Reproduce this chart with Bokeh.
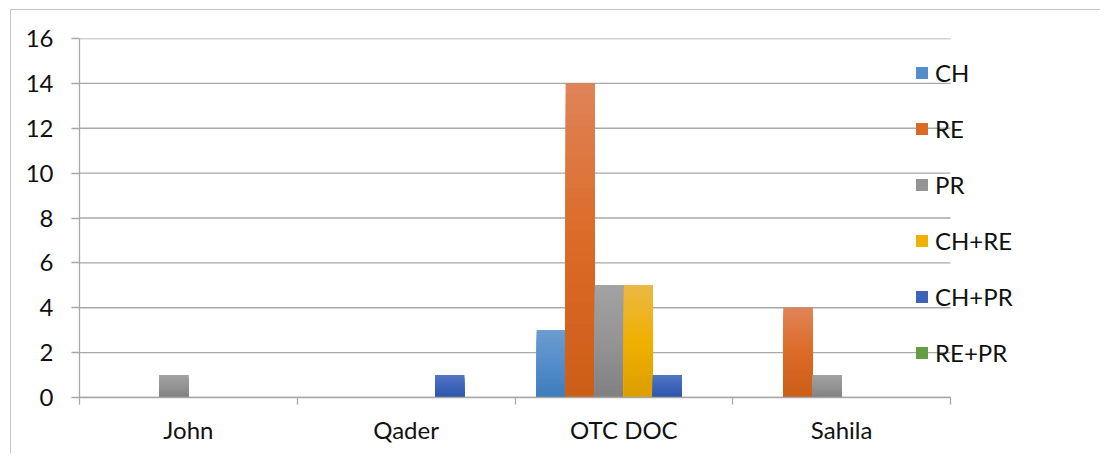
import numpy as np
from bokeh.plotting import figure
from bokeh.models import ColumnDataSource, FixedTicker, Legend, LegendItem, Range1d
from bokeh.embed import file_html
from bokeh.resources import INLINE

# ---- data ----
categories = ["John", "Qader", "OTC DOC", "Sahila"]
series_names = ["CH", "RE", "PR", "CH+RE", "CH+PR", "RE+PR"]
CH = [0, 0, 3, 0]
RE = [0, 0, 14, 4]
PR = [1, 0, 5, 1]
CH_RE = [0, 0, 5, 0]
CH_PR = [0, 1, 1, 0]
RE_PR = [0, 0, 0, 0]
y_ticks = [0, 2, 4, 6, 8, 10, 12, 14, 16]

series_values = [CH, RE, PR, CH_RE, CH_PR, RE_PR]

# gradient colours (top, middle, bottom)
grad = {
    "CH": ((108, 156, 206), (84, 141, 203), (62, 124, 188)),
    "RE": ((224, 132, 88), (219, 106, 38), (204, 94, 24)),
    "PR": ((162, 162, 162), (148, 148, 148), (128, 128, 128)),
    "CH+RE": ((236, 184, 70), (240, 176, 0), (220, 158, 0)),
    "CH+PR": ((82, 118, 194), (62, 100, 184), (44, 86, 170)),
    "RE+PR": ((114, 172, 82), (100, 158, 66), (84, 142, 52)),
}

def mix(c, t):
    top, mid, bot = c
    if t < 0.5:
        a, b, f = top, mid, t / 0.5
    else:
        a, b, f = mid, bot, (t - 0.5) / 0.5
    r = [int(round(a[i] + (b[i] - a[i]) * f)) for i in range(3)]
    return "#%02x%02x%02x" % tuple(r)

FONT = "Lato"
FS = "24px"
GRID = "#a8a8a8"
n_cat = len(categories)
n_series = len(series_names)
bw = 0.8 / n_series

PLOT_W = 871          # pixel width of the category area
FRAME_W = 1001        # frame extends to the right so the legend can sit over it
x_end = n_cat * FRAME_W / PLOT_W

p = figure(
    x_range=Range1d(0, x_end), y_range=Range1d(0, 16),
    frame_width=FRAME_W, frame_height=359,
    min_border_left=68, min_border_top=28, min_border_right=20, min_border_bottom=56,
    output_backend="svg", toolbar_location=None,
    outline_line_color=None, background_fill_color="white", border_fill_color="white",
)
p.margin = (9, 0, 0, 10)
p.styles = {"border-left": "1px solid #c4c4c4", "border-top": "1px solid #c4c4c4"}

# horizontal gridlines limited to the category area
p.segment(x0=[0] * len(y_ticks), x1=[n_cat] * len(y_ticks), y0=y_ticks, y1=y_ticks,
          line_color=GRID, line_width=1.3)

items = []
NL = 30
for s, (name, vals) in enumerate(zip(series_names, series_values)):
    xs = [i + 0.5 + (s - (n_series - 1) / 2) * bw for i in range(n_cat)]
    base = p.vbar(x=xs, top=vals, bottom=0, width=bw,
                  fill_color=mix(grad[name], 0.5), line_color=None)
    lx, lt, lc = [], [], []
    for i, v in enumerate(vals):
        if v <= 0:
            continue
        for k in range(NL):
            lx.append(xs[i])
            lt.append(v * (1 - k / NL))
            lc.append(mix(grad[name], (k + 0.5) / NL))
    if lx:
        src = ColumnDataSource(dict(x=lx, top=lt, color=lc))
        p.vbar(x="x", top="top", bottom=0, width=bw, fill_color="color",
               line_color=None, source=src)
    items.append(LegendItem(label=name, renderers=[base]))

p.xgrid.visible = False
p.ygrid.visible = False

# y axis
ya = p.yaxis[0]
ya.ticker = FixedTicker(ticks=y_ticks, minor_ticks=[])
ya.axis_line_color = GRID
ya.axis_line_width = 1.3
ya.major_tick_line_color = GRID
ya.major_tick_line_width = 1.3
ya.major_tick_out = 8
ya.major_tick_in = 0
ya.minor_tick_line_color = None
ya.major_label_text_font = FONT
ya.major_label_text_font_size = FS
ya.major_label_text_color = "#111111"
ya.major_label_standoff = 18

# x axis
xa = p.xaxis[0]
centers = [i + 0.5 for i in range(n_cat)]
bounds = [float(i) for i in range(n_cat + 1)]
xa.bounds = (0, n_cat)
xa.ticker = FixedTicker(ticks=centers, minor_ticks=bounds)
xa.major_label_overrides = {c: lab for c, lab in zip(centers, categories)}
xa.axis_line_color = GRID
xa.axis_line_width = 1.3
xa.major_tick_line_color = None
xa.minor_tick_line_color = GRID
xa.minor_tick_line_width = 1.3
xa.minor_tick_out = 7
xa.minor_tick_in = 0
xa.major_label_text_font = FONT
xa.major_label_text_font_size = FS
xa.major_label_text_color = "#111111"
xa.major_label_standoff = 10

legend = Legend(
    items=items, location=(835, 30), orientation="vertical",
    glyph_width=15, glyph_height=15, label_height=30, spacing=26,
    label_standoff=6, padding=0, margin=0,
    border_line_color=None, background_fill_alpha=0,
    label_text_font=FONT, label_text_font_size=FS, label_text_color="#111111",
)
p.add_layout(legend)

open("out.html", "w").write(file_html(p, INLINE))
